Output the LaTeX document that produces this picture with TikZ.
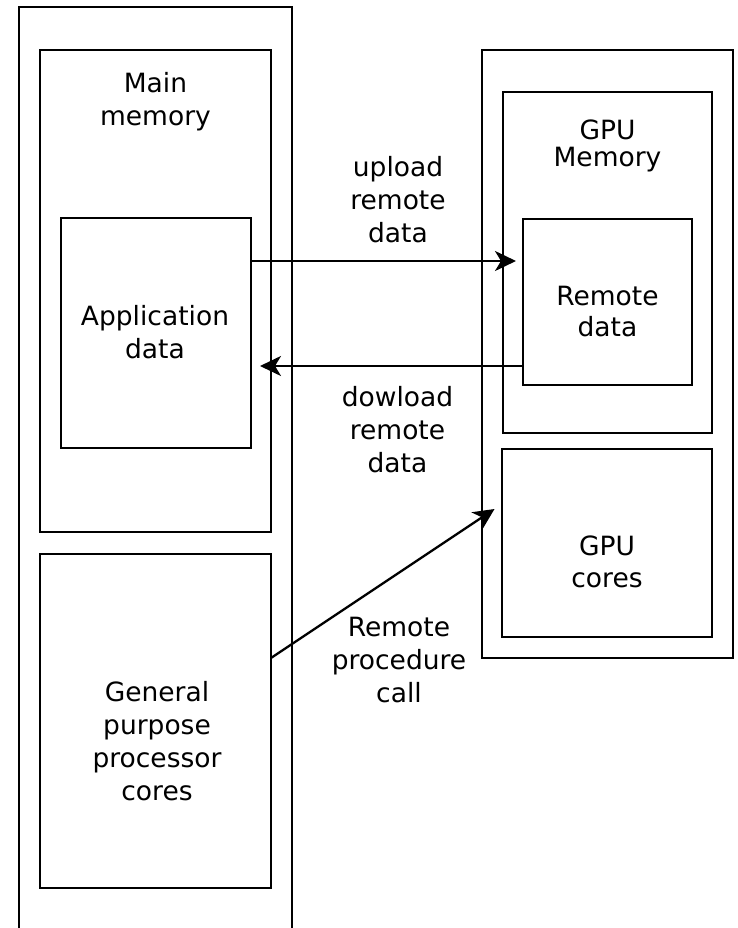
\documentclass[tikz,border=0pt]{standalone}
\usepackage{fontspec}
\setmainfont{DejaVu Sans}
\usetikzlibrary{arrows.meta}

\begin{document}
\begin{tikzpicture}[x=1pt, y=-1pt,
  box/.style={draw, line width=2.3pt, inner sep=0pt, outer sep=0pt, fill=none},
  lbl/.style={align=center, anchor=base, inner sep=0pt,
              font=\fontsize{26.5}{33}\selectfont},
  arr/.style={line width=2.3pt, -{Stealth[length=21pt, width=20pt, inset=6pt]}}]

  % canvas
  \useasboundingbox (0,0) rectangle (737,928);
  \fill[white] (0,0) rectangle (737,928);

  % host side
  \node[box, minimum width=273pt, minimum height=953pt] (host) at (155.5,483.5) {};
  \node[box, minimum width=231pt, minimum height=482pt] (mainmem) at (155.5,291) {};
  \node[box, minimum width=190pt, minimum height=230pt] (app) at (156,333) {};
  \node[box, minimum width=231pt, minimum height=334pt] (gp) at (155.5,721) {};

  % device side
  \node[box, minimum width=251pt, minimum height=608pt] (gpu) at (607.5,354) {};
  \node[box, minimum width=209pt, minimum height=341pt] (gpumem) at (607.5,262.5) {};
  \node[box, minimum width=169pt, minimum height=166pt] (rdata) at (607.5,302) {};
  \node[box, minimum width=210pt, minimum height=188pt] (gpuc) at (607,543) {};

  % box labels (anchored at the baseline of the last line)
  \node[lbl] (tmain) at (155.5,126) {Main\\memory};
  \node[lbl] (tapp) at (155,358) {Application\\data};
  \node[lbl] (tgp) at (157,800) {General\\purpose\\processor\\cores};
  \node[lbl, font=\fontsize{26.5}{27}\selectfont] (tgpumem) at (607.5,167) {GPU\\Memory};
  \node[lbl, font=\fontsize{26.5}{31}\selectfont] (trdata) at (607.5,336) {Remote\\data};
  \node[lbl, font=\fontsize{26.5}{32}\selectfont] (tgpuc) at (607,587) {GPU\\cores};

  % transfers
  \draw[arr, shorten >=7pt] ([yshift=72pt]app.east) -- ([yshift=72pt]app.east -| rdata.west);
  \draw[arr, shorten >=9pt] ([yshift=-64pt]rdata.west) -- ([yshift=-64pt]rdata.west -| app.east);
  \draw[arr, shorten >=9pt] ([yshift=63pt]gp.east) -- ([yshift=39pt]gpuc.west);

  % connector labels
  \node[lbl] (tup) at (398,242) {upload\\remote\\data};
  \node[lbl] (tdown) at (397.5,472) {dowload\\remote\\data};
  \node[lbl] (trpc) at (399,702) {Remote\\procedure\\call};
\end{tikzpicture}
\end{document}
